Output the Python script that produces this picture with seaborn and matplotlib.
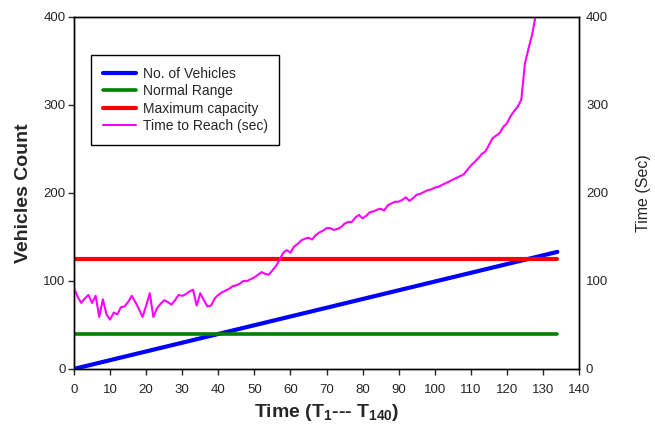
import matplotlib
matplotlib.use("Agg")
import matplotlib.pyplot as plt
import seaborn as sns

# datos
tiempo_vehiculos = [0, 134]
num_vehiculos = [0, 133]

tiempo_limites = [0, 134]
rango_normal = [40, 40]
capacidad_max = [125, 125]

tiempo_reach = list(range(0, 129))
time_to_reach = [92, 82, 75, 80, 84, 75, 83, 59, 79, 62,
                 56, 64, 62, 70, 71, 76, 83, 76, 68, 59,
                 72, 86, 59, 69, 74, 78, 76, 73, 78, 84,
                 83, 85, 88, 90, 72, 86, 78, 71, 72, 80,
                 84, 87, 89, 91, 94, 95, 97, 100, 100, 102,
                 104, 107, 110, 108, 107, 112, 117, 124, 132, 135,
                 132, 139, 142, 146, 148, 149, 147, 152, 155, 157,
                 160, 160, 158, 159, 161, 165, 167, 167, 172, 175,
                 171, 174, 178, 179, 181, 182, 180, 186, 188, 190,
                 190, 192, 195, 191, 194, 198, 199, 201, 203, 204,
                 206, 207, 209, 211, 213, 215, 217, 219, 221, 226,
                 231, 235, 239, 244, 247, 254, 262, 265, 268, 275,
                 279, 287, 293, 298, 306, 347, 364, 380, 402]

sns.set_style("ticks")
plt.rcParams['font.family'] = ['Liberation Sans', 'DejaVu Sans']
plt.rcParams['mathtext.fontset'] = 'custom'
plt.rcParams['mathtext.rm'] = 'Liberation Sans'
plt.rcParams['mathtext.bf'] = 'Liberation Sans:bold'

fig = plt.figure(figsize=(6.55, 4.34), dpi=100)
ax = fig.add_axes([0.113, 0.150, 0.771, 0.811])
ax2 = ax.twinx()

sns.lineplot(x=tiempo_vehiculos, y=num_vehiculos, ax=ax, color='#0000FF', lw=3, label='No. of Vehicles')
sns.lineplot(x=tiempo_limites, y=rango_normal, ax=ax, color='#008000', lw=2.6, label='Normal Range')
sns.lineplot(x=tiempo_limites, y=capacidad_max, ax=ax, color='#FF0000', lw=3, label='Maximum capacity')
sns.lineplot(x=tiempo_reach, y=time_to_reach, ax=ax2, color='#FF00FF', lw=1.5, label='Time to Reach (sec)')

for a in (ax, ax2):
    a.set_xlim(0, 140)
    a.set_ylim(0, 400)
    a.set_yticks(range(0, 401, 100))
    for s in a.spines.values():
        s.set_visible(True)
        s.set_color('black')
        s.set_linewidth(1)

ax.set_xticks(range(0, 141, 10))
ax.tick_params(axis='x', direction='out', length=4, width=1, labelsize=9.5, pad=7)
ax.tick_params(axis='y', direction='out', length=4, width=1, labelsize=9.5, pad=2)
ax2.tick_params(axis='y', length=0, labelsize=9.5, pad=5)

ax.set_xlabel(r'Time (T$_\mathbf{1}$--- T$_\mathbf{140}$)', fontsize=14, fontweight='bold', labelpad=4)
ax.set_ylabel('Vehicles Count', fontsize=14, fontweight='bold', labelpad=8)
ax2.set_ylabel('Time (Sec)', fontsize=11.5, labelpad=20)

h1, l1 = ax.get_legend_handles_labels()
h2, l2 = ax2.get_legend_handles_labels()
if ax2.get_legend() is not None:
    ax2.get_legend().remove()
leg = ax.legend(h1 + h2, l1 + l2, loc='upper left', bbox_to_anchor=(0.034, 0.892),
                borderaxespad=0, fancybox=False, edgecolor='black', framealpha=1,
                fontsize=10, handlelength=2.4, handletextpad=0.45,
                labelspacing=0.25, borderpad=0.85)
leg.get_frame().set_linewidth(1)

plt.savefig('out.png', dpi=100)
